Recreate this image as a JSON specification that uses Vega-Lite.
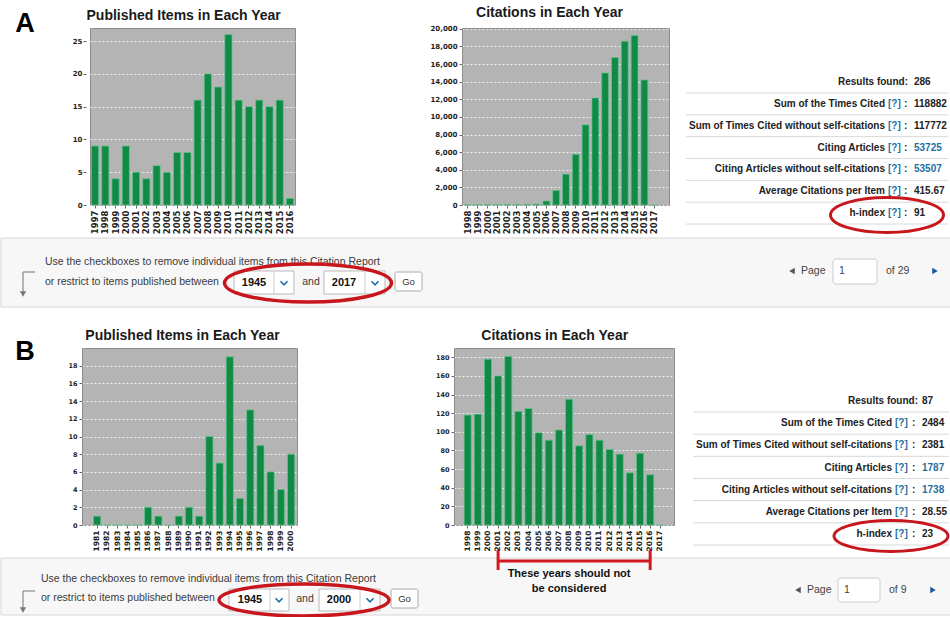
{
  "$schema": "https://vega.github.io/schema/vega-lite/v6.json",
  "background": "white",
  "padding": 0,
  "spacing": 0,
  "config": {
    "view": {"stroke": null},
    "font": "Liberation Sans",
    "title": {"font": "Liberation Sans", "fontSize": 14, "fontWeight": "bold", "color": "#1a1a1a", "anchor": "middle", "frame": "bounds", "offset": 5},
    "axis": {"labelFont": "DejaVu Sans", "labelColor": "#1e1e1e", "labelFontWeight": "bold", "domain": false, "tickColor": "#666666", "tickSize": 3, "title": null, "gridColor": "#ffffff", "gridDash": [2, 2], "gridOpacity": 0.75, "labelOverlap": false},
    "axisX": {"labelAngle": -90, "labelPadding": 2, "grid": false},
    "axisY": {"grid": true, "labelPadding": 2}
  },
  "datasets": {
    "pubA": [
      {"year": "1997", "n": 9}, {"year": "1998", "n": 9}, {"year": "1999", "n": 4}, {"year": "2000", "n": 9},
      {"year": "2001", "n": 5}, {"year": "2002", "n": 4}, {"year": "2003", "n": 6}, {"year": "2004", "n": 5},
      {"year": "2005", "n": 8}, {"year": "2006", "n": 8}, {"year": "2007", "n": 16}, {"year": "2008", "n": 20},
      {"year": "2009", "n": 18}, {"year": "2010", "n": 26}, {"year": "2011", "n": 16}, {"year": "2012", "n": 15},
      {"year": "2013", "n": 16}, {"year": "2014", "n": 15}, {"year": "2015", "n": 16}, {"year": "2016", "n": 1}
    ],
    "citA": [
      {"year": "1998", "n": 40}, {"year": "1999", "n": 50}, {"year": "2000", "n": 60}, {"year": "2001", "n": 60},
      {"year": "2002", "n": 70}, {"year": "2003", "n": 70}, {"year": "2004", "n": 80}, {"year": "2005", "n": 110},
      {"year": "2006", "n": 450}, {"year": "2007", "n": 1650}, {"year": "2008", "n": 3500}, {"year": "2009", "n": 5750},
      {"year": "2010", "n": 9100}, {"year": "2011", "n": 12150}, {"year": "2012", "n": 15000}, {"year": "2013", "n": 16750},
      {"year": "2014", "n": 18600}, {"year": "2015", "n": 19250}, {"year": "2016", "n": 14200}, {"year": "2017", "n": 0}
    ],
    "pubB": [
      {"year": "1981", "n": 1}, {"year": "1982", "n": 0}, {"year": "1983", "n": 0}, {"year": "1984", "n": 0},
      {"year": "1985", "n": 0}, {"year": "1986", "n": 2}, {"year": "1987", "n": 1}, {"year": "1988", "n": 0},
      {"year": "1989", "n": 1}, {"year": "1990", "n": 2}, {"year": "1991", "n": 1}, {"year": "1992", "n": 10},
      {"year": "1993", "n": 7}, {"year": "1994", "n": 19}, {"year": "1995", "n": 3}, {"year": "1996", "n": 13},
      {"year": "1997", "n": 9}, {"year": "1998", "n": 6}, {"year": "1999", "n": 4}, {"year": "2000", "n": 8}
    ],
    "citB": [
      {"year": "1998", "n": 118}, {"year": "1999", "n": 119}, {"year": "2000", "n": 178}, {"year": "2001", "n": 160},
      {"year": "2002", "n": 181}, {"year": "2003", "n": 122}, {"year": "2004", "n": 125}, {"year": "2005", "n": 99},
      {"year": "2006", "n": 91}, {"year": "2007", "n": 102}, {"year": "2008", "n": 135}, {"year": "2009", "n": 85},
      {"year": "2010", "n": 97}, {"year": "2011", "n": 91}, {"year": "2012", "n": 81}, {"year": "2013", "n": 76},
      {"year": "2014", "n": 56}, {"year": "2015", "n": 77}, {"year": "2016", "n": 54}, {"year": "2017", "n": 0}
    ],
    "noteB": [
      {"from": "2001", "to": "2016", "mid": "2008", "line1": "These years should not", "line2": "be considered"}
    ],
    "statsA": [
      {"label": "Results found:", "q": false, "value": "286", "link": false},
      {"label": "Sum of the Times Cited", "q": true, "value": "118882", "link": false},
      {"label": "Sum of Times Cited without self-citations", "q": true, "value": "117772", "link": false},
      {"label": "Citing Articles", "q": true, "value": "53725", "link": true},
      {"label": "Citing Articles without self-citations", "q": true, "value": "53507", "link": true},
      {"label": "Average Citations per Item", "q": true, "value": "415.67", "link": false},
      {"label": "h-index", "q": true, "value": "91", "link": false}
    ],
    "statsB": [
      {"label": "Results found:", "q": false, "value": "87", "link": false},
      {"label": "Sum of the Times Cited", "q": true, "value": "2484", "link": false},
      {"label": "Sum of Times Cited without self-citations", "q": true, "value": "2381", "link": false},
      {"label": "Citing Articles", "q": true, "value": "1787", "link": true},
      {"label": "Citing Articles without self-citations", "q": true, "value": "1738", "link": true},
      {"label": "Average Citations per Item", "q": true, "value": "28.55", "link": false},
      {"label": "h-index", "q": true, "value": "23", "link": false}
    ],
    "ctlA": [
      {"panel": "A", "line1": "Use the checkboxes to remove individual items from this Citation Report", "line2": "or restrict to items published between", "from": "1945", "and": "and", "to": "2017", "go": "Go", "page": "Page", "current": "1", "of": "of 29"}
    ],
    "ctlB": [
      {"panel": "B", "line1": "Use the checkboxes to remove individual items from this Citation Report", "line2": "or restrict to items published between", "from": "1945", "and": "and", "to": "2000", "go": "Go", "page": "Page", "current": "1", "of": "of 9"}
    ],
    "blank": [{}]
  },
  "vconcat": [
    {
      "bounds": "flush",
      "spacing": 0,
      "hconcat": [
        {
          "width": 89, "height": 210,
          "data": {"name": "ctlA"},
          "layer": [
            {"mark": {"type": "rule", "opacity": 0, "strokeWidth": 0.01}, "encoding": {"x": {"value": 0}, "y": {"value": -28}, "y2": {"value": 279}}},
            {"mark": {"type": "text", "font": "Liberation Sans", "fontSize": 27, "fontWeight": "bold", "align": "center", "baseline": "alphabetic", "color": "#000000"}, "encoding": {"text": {"field": "panel"}, "x": {"value": 24}, "y": {"value": 4}}},
            {"mark": {"type": "rect", "fill": "#f7f7f7", "stroke": "#d6d6d6"}, "encoding": {"x": {"value": 0}, "x2": {"value": 950}, "y": {"value": 210}, "y2": {"value": 279}}},
            {"mark": {"type": "text", "align": "left", "baseline": "middle", "fontSize": 10.5, "color": "#3a3a3a"}, "encoding": {"x": {"value": 44}, "y": {"value": 234}, "text": {"field": "line1"}}},
            {"mark": {"type": "text", "align": "left", "baseline": "middle", "fontSize": 10.5, "color": "#3a3a3a"}, "encoding": {"x": {"value": 44}, "y": {"value": 254}, "text": {"field": "line2"}}},
            {"mark": {"type": "rule", "color": "#888888", "strokeWidth": 1.2}, "encoding": {"x": {"value": 22}, "x2": {"value": 34}, "y": {"value": 244}}},
            {"mark": {"type": "rule", "color": "#888888", "strokeWidth": 1.2}, "encoding": {"x": {"value": 22}, "y": {"value": 244}, "y2": {"value": 264}}},
            {"mark": {"type": "point", "shape": "triangle-down", "size": 40, "filled": true, "color": "#777777", "opacity": 1}, "encoding": {"x": {"value": 22}, "y": {"value": 266}}},
            {"mark": {"type": "rect", "fill": "#ffffff", "stroke": "#b9b9b9"}, "encoding": {"x": {"value": 233}, "x2": {"value": 293}, "y": {"value": 243}, "y2": {"value": 266}}},
            {"mark": {"type": "rule", "color": "#cccccc"}, "encoding": {"x": {"value": 273}, "y": {"value": 243}, "y2": {"value": 266}}},
            {"mark": {"type": "text", "align": "center", "baseline": "middle", "fontSize": 11, "fontWeight": "bold", "color": "#111111"}, "encoding": {"x": {"value": 253}, "y": {"value": 255}, "text": {"field": "from"}}},
            {"mark": {"type": "point", "shape": "M -1 -0.5 L 0 0.5 L 1 -0.5", "size": 50, "filled": false, "stroke": "#1b6fa8", "strokeWidth": 1.6, "opacity": 1}, "encoding": {"x": {"value": 283}, "y": {"value": 255}}},
            {"mark": {"type": "text", "align": "center", "baseline": "middle", "fontSize": 10.5, "color": "#3a3a3a"}, "encoding": {"x": {"value": 310}, "y": {"value": 254}, "text": {"field": "and"}}},
            {"mark": {"type": "rect", "fill": "#ffffff", "stroke": "#b9b9b9"}, "encoding": {"x": {"value": 323}, "x2": {"value": 384}, "y": {"value": 243}, "y2": {"value": 266}}},
            {"mark": {"type": "rule", "color": "#cccccc"}, "encoding": {"x": {"value": 364}, "y": {"value": 243}, "y2": {"value": 266}}},
            {"mark": {"type": "text", "align": "center", "baseline": "middle", "fontSize": 11, "fontWeight": "bold", "color": "#111111"}, "encoding": {"x": {"value": 343}, "y": {"value": 255}, "text": {"field": "to"}}},
            {"mark": {"type": "point", "shape": "M -1 -0.5 L 0 0.5 L 1 -0.5", "size": 50, "filled": false, "stroke": "#1b6fa8", "strokeWidth": 1.6, "opacity": 1}, "encoding": {"x": {"value": 374}, "y": {"value": 255}}},
            {"mark": {"type": "rect", "fill": "#ffffff", "stroke": "#aaaaaa", "cornerRadius": 2}, "encoding": {"x": {"value": 394}, "x2": {"value": 421}, "y": {"value": 244}, "y2": {"value": 263}}},
            {"mark": {"type": "text", "align": "center", "baseline": "middle", "fontSize": 9.5, "color": "#333333"}, "encoding": {"x": {"value": 407.5}, "y": {"value": 253.5}, "text": {"field": "go"}}},
            {"mark": {"type": "point", "shape": "M -1 0 C -1 -0.126 -0.552 -0.228 0 -0.228 C 0.552 -0.228 1 -0.126 1 0 C 1 0.126 0.552 0.228 0 0.228 C -0.552 0.228 -1 0.126 -1 0 Z", "size": 27889, "filled": false, "stroke": "#c8161d", "strokeWidth": 3.5, "opacity": 1}, "encoding": {"x": {"value": 307}, "y": {"value": 255}}},
            {"mark": {"type": "point", "shape": "triangle-left", "size": 40, "filled": true, "color": "#555555", "opacity": 1}, "encoding": {"x": {"value": 791}, "y": {"value": 243}}},
            {"mark": {"type": "text", "align": "left", "baseline": "middle", "fontSize": 10.5, "color": "#444444"}, "encoding": {"x": {"value": 800}, "y": {"value": 243}, "text": {"field": "page"}}},
            {"mark": {"type": "rect", "fill": "#ffffff", "stroke": "#cccccc", "cornerRadius": 3}, "encoding": {"x": {"value": 832}, "x2": {"value": 876}, "y": {"value": 231}, "y2": {"value": 256}}},
            {"mark": {"type": "text", "align": "left", "baseline": "middle", "fontSize": 10.5, "color": "#444444"}, "encoding": {"x": {"value": 838}, "y": {"value": 243}, "text": {"field": "current"}}},
            {"mark": {"type": "text", "align": "left", "baseline": "middle", "fontSize": 10.5, "color": "#444444"}, "encoding": {"x": {"value": 885}, "y": {"value": 243}, "text": {"field": "of"}}},
            {"mark": {"type": "point", "shape": "triangle-right", "size": 40, "filled": true, "color": "#1a5a9a", "opacity": 1}, "encoding": {"x": {"value": 934}, "y": {"value": 243}}}
          ]
        },
        {
          "width": 205, "height": 177,
          "data": {"name": "pubA"},
          "title": "Published Items in Each Year",
          "view": {"fill": "#b4b4b4", "stroke": "#8c8c8c"},
          "mark": {"type": "bar", "fill": "#118a46", "stroke": "#62c48e", "strokeWidth": 0.7},
          "encoding": {
            "x": {"field": "year", "type": "ordinal", "scale": {"paddingInner": 0.3, "paddingOuter": 0.14}, "axis": {"labelFontSize": 8.5}},
            "y": {"field": "n", "type": "quantitative", "scale": {"domain": [0, 27], "nice": false}, "axis": {"values": [0, 5, 10, 15, 20, 25], "labelFontSize": 7, "offset": 4, "labelPadding": 1}}
          }
        },
        {"width": 167, "height": 1, "data": {"name": "blank"}, "mark": "text", "encoding": {"text": {"value": ""}}},
        {
          "width": 207, "height": 177,
          "data": {"name": "citA"},
          "title": "Citations in Each Year",
          "view": {"fill": "#b4b4b4", "stroke": "#8c8c8c"},
          "mark": {"type": "bar", "fill": "#118a46", "stroke": "#62c48e", "strokeWidth": 0.7},
          "encoding": {
            "x": {"field": "year", "type": "ordinal", "scale": {"paddingInner": 0.3, "paddingOuter": 0.71, "align": 0.18}, "axis": {"labelFontSize": 8.5}},
            "y": {"field": "n", "type": "quantitative", "scale": {"domain": [0, 20100], "nice": false}, "axis": {"values": [0, 2000, 4000, 6000, 8000, 10000, 12000, 14000, 16000, 18000, 20000], "labelExpr": "format(datum.value, ',')", "labelFontSize": 7}}
          }
        },
        {
          "width": 282, "height": 210,
          "data": {"name": "statsA"},
          "encoding": {
            "y": {"field": "label", "type": "nominal", "axis": null, "scale": {"type": "point", "padding": 0, "range": [54, 185], "domain": ["Results found:", "Sum of the Times Cited", "Sum of Times Cited without self-citations", "Citing Articles", "Citing Articles without self-citations", "Average Citations per Item", "h-index"]}}
          },
          "layer": [
            {"mark": {"type": "rule", "color": "#d8d8d8", "yOffset": 11}, "encoding": {"x": {"value": 17}, "x2": {"value": 279}}},
            {"transform": [{"filter": "!datum.q"}], "mark": {"type": "text", "align": "right", "baseline": "middle", "fontSize": 10, "fontWeight": "bold", "color": "#222222"}, "encoding": {"x": {"value": 239}, "text": {"field": "label"}}},
            {"transform": [{"filter": "datum.q"}], "mark": {"type": "text", "align": "right", "baseline": "middle", "fontSize": 10, "fontWeight": "bold", "color": "#222222"}, "encoding": {"x": {"value": 216}, "text": {"field": "label"}}},
            {"transform": [{"filter": "datum.q"}], "mark": {"type": "text", "align": "left", "baseline": "middle", "fontSize": 10, "fontWeight": "bold", "color": "#1f6f9f"}, "encoding": {"x": {"value": 219}, "text": {"value": "[?]"}}},
            {"transform": [{"filter": "datum.q"}], "mark": {"type": "text", "align": "left", "baseline": "middle", "fontSize": 10, "fontWeight": "bold", "color": "#222222"}, "encoding": {"x": {"value": 235}, "text": {"value": ":"}}},
            {"mark": {"type": "text", "align": "left", "baseline": "middle", "fontSize": 10, "fontWeight": "bold"}, "encoding": {"x": {"value": 245}, "text": {"field": "value"}, "color": {"condition": {"test": "datum.link", "value": "#1f6f9f"}, "value": "#222222"}}},
            {"transform": [{"filter": "datum.label == 'h-index'"}], "mark": {"type": "point", "shape": "M -1 0 C -1 -0.171 -0.552 -0.31 0 -0.31 C 0.552 -0.31 1 -0.171 1 0 C 1 0.171 0.552 0.31 0 0.31 C -0.552 0.31 -1 0.171 -1 0 Z", "size": 12769, "filled": false, "stroke": "#c8161d", "strokeWidth": 3, "opacity": 1, "yOffset": 2}, "encoding": {"x": {"value": 218}}}
          ]
        }
      ]
    },
    {
      "bounds": "flush",
      "spacing": 0,
      "hconcat": [
        {
          "width": 81, "height": 210,
          "data": {"name": "ctlB"},
          "layer": [
            {"mark": {"type": "rule", "opacity": 0, "strokeWidth": 0.01}, "encoding": {"x": {"value": 0}, "y": {"value": -38}, "y2": {"value": 267}}},
            {"mark": {"type": "text", "font": "Liberation Sans", "fontSize": 27, "fontWeight": "bold", "align": "center", "baseline": "alphabetic", "color": "#000000"}, "encoding": {"text": {"field": "panel"}, "x": {"value": 24}, "y": {"value": 12}}},
            {"mark": {"type": "rect", "fill": "#f7f7f7", "stroke": "#d6d6d6"}, "encoding": {"x": {"value": 0}, "x2": {"value": 950}, "y": {"value": 210}, "y2": {"value": 267}}},
            {"mark": {"type": "text", "align": "left", "baseline": "middle", "fontSize": 10.5, "color": "#3a3a3a"}, "encoding": {"x": {"value": 40}, "y": {"value": 231}, "text": {"field": "line1"}}},
            {"mark": {"type": "text", "align": "left", "baseline": "middle", "fontSize": 10.5, "color": "#3a3a3a"}, "encoding": {"x": {"value": 40}, "y": {"value": 250}, "text": {"field": "line2"}}},
            {"mark": {"type": "rule", "color": "#888888", "strokeWidth": 1.2}, "encoding": {"x": {"value": 22}, "x2": {"value": 34}, "y": {"value": 243}}},
            {"mark": {"type": "rule", "color": "#888888", "strokeWidth": 1.2}, "encoding": {"x": {"value": 22}, "y": {"value": 243}, "y2": {"value": 260}}},
            {"mark": {"type": "point", "shape": "triangle-down", "size": 40, "filled": true, "color": "#777777", "opacity": 1}, "encoding": {"x": {"value": 22}, "y": {"value": 262}}},
            {"mark": {"type": "rect", "fill": "#ffffff", "stroke": "#b9b9b9"}, "encoding": {"x": {"value": 228}, "x2": {"value": 288}, "y": {"value": 241}, "y2": {"value": 263}}},
            {"mark": {"type": "rule", "color": "#cccccc"}, "encoding": {"x": {"value": 269}, "y": {"value": 241}, "y2": {"value": 263}}},
            {"mark": {"type": "text", "align": "center", "baseline": "middle", "fontSize": 11, "fontWeight": "bold", "color": "#111111"}, "encoding": {"x": {"value": 249}, "y": {"value": 252}, "text": {"field": "from"}}},
            {"mark": {"type": "point", "shape": "M -1 -0.5 L 0 0.5 L 1 -0.5", "size": 50, "filled": false, "stroke": "#1b6fa8", "strokeWidth": 1.6, "opacity": 1}, "encoding": {"x": {"value": 278}, "y": {"value": 252}}},
            {"mark": {"type": "text", "align": "center", "baseline": "middle", "fontSize": 10.5, "color": "#3a3a3a"}, "encoding": {"x": {"value": 304}, "y": {"value": 251}, "text": {"field": "and"}}},
            {"mark": {"type": "rect", "fill": "#ffffff", "stroke": "#b9b9b9"}, "encoding": {"x": {"value": 318}, "x2": {"value": 379}, "y": {"value": 241}, "y2": {"value": 263}}},
            {"mark": {"type": "rule", "color": "#cccccc"}, "encoding": {"x": {"value": 359}, "y": {"value": 241}, "y2": {"value": 263}}},
            {"mark": {"type": "text", "align": "center", "baseline": "middle", "fontSize": 11, "fontWeight": "bold", "color": "#111111"}, "encoding": {"x": {"value": 338}, "y": {"value": 252}, "text": {"field": "to"}}},
            {"mark": {"type": "point", "shape": "M -1 -0.5 L 0 0.5 L 1 -0.5", "size": 50, "filled": false, "stroke": "#1b6fa8", "strokeWidth": 1.6, "opacity": 1}, "encoding": {"x": {"value": 369}, "y": {"value": 252}}},
            {"mark": {"type": "rect", "fill": "#ffffff", "stroke": "#aaaaaa", "cornerRadius": 2}, "encoding": {"x": {"value": 390}, "x2": {"value": 417}, "y": {"value": 241}, "y2": {"value": 260}}},
            {"mark": {"type": "text", "align": "center", "baseline": "middle", "fontSize": 9.5, "color": "#333333"}, "encoding": {"x": {"value": 403.5}, "y": {"value": 250.5}, "text": {"field": "go"}}},
            {"mark": {"type": "point", "shape": "M -1 0 C -1 -0.104 -0.552 -0.188 0 -0.188 C 0.552 -0.188 1 -0.104 1 0 C 1 0.104 0.552 0.188 0 0.188 C -0.552 0.188 -1 0.104 -1 0 Z", "size": 28900, "filled": false, "stroke": "#c8161d", "strokeWidth": 3.5, "opacity": 1}, "encoding": {"x": {"value": 303}, "y": {"value": 252}}},
            {"mark": {"type": "point", "shape": "triangle-left", "size": 40, "filled": true, "color": "#555555", "opacity": 1}, "encoding": {"x": {"value": 797}, "y": {"value": 242}}},
            {"mark": {"type": "text", "align": "left", "baseline": "middle", "fontSize": 10.5, "color": "#444444"}, "encoding": {"x": {"value": 806}, "y": {"value": 242}, "text": {"field": "page"}}},
            {"mark": {"type": "rect", "fill": "#ffffff", "stroke": "#cccccc", "cornerRadius": 3}, "encoding": {"x": {"value": 837}, "x2": {"value": 879}, "y": {"value": 230}, "y2": {"value": 254}}},
            {"mark": {"type": "text", "align": "left", "baseline": "middle", "fontSize": 10.5, "color": "#444444"}, "encoding": {"x": {"value": 843}, "y": {"value": 242}, "text": {"field": "current"}}},
            {"mark": {"type": "text", "align": "left", "baseline": "middle", "fontSize": 10.5, "color": "#444444"}, "encoding": {"x": {"value": 888}, "y": {"value": 242}, "text": {"field": "of"}}},
            {"mark": {"type": "point", "shape": "triangle-right", "size": 40, "filled": true, "color": "#1a5a9a", "opacity": 1}, "encoding": {"x": {"value": 932}, "y": {"value": 242}}}
          ]
        },
        {
          "width": 215, "height": 177,
          "data": {"name": "pubB"},
          "title": "Published Items in Each Year",
          "view": {"fill": "#b4b4b4", "stroke": "#8c8c8c"},
          "mark": {"type": "bar", "fill": "#118a46", "stroke": "#62c48e", "strokeWidth": 0.7},
          "encoding": {
            "x": {"field": "year", "type": "ordinal", "scale": {"paddingInner": 0.3, "paddingOuter": 0.68, "align": 0.83}, "axis": {"labelFontSize": 7.5}},
            "y": {"field": "n", "type": "quantitative", "scale": {"domain": [0, 20], "nice": false}, "axis": {"values": [0, 2, 4, 6, 8, 10, 12, 14, 16, 18], "labelFontSize": 6.5}}
          }
        },
        {"width": 157, "height": 1, "data": {"name": "blank"}, "mark": "text", "encoding": {"text": {"value": ""}}},
        {
          "width": 220, "height": 177,
          "title": "Citations in Each Year",
          "view": {"fill": "#b4b4b4", "stroke": "#8c8c8c"},
          "layer": [
            {
              "data": {"name": "citB"},
              "mark": {"type": "bar", "fill": "#118a46", "stroke": "#62c48e", "strokeWidth": 0.7},
              "encoding": {
                "x": {"field": "year", "type": "ordinal", "scale": {"domain": ["1998", "1999", "2000", "2001", "2002", "2003", "2004", "2005", "2006", "2007", "2008", "2009", "2010", "2011", "2012", "2013", "2014", "2015", "2016", "2017"], "paddingInner": 0.3, "paddingOuter": 1}, "axis": {"labelFontSize": 7.5}},
                "y": {"field": "n", "type": "quantitative", "scale": {"domain": [0, 190], "nice": false}, "axis": {"values": [0, 20, 40, 60, 80, 100, 120, 140, 160, 180], "labelFontSize": 6.5}}
              }
            },
            {
              "data": {"name": "noteB"},
              "mark": {"type": "rule", "color": "#d11a1f", "strokeWidth": 3},
              "encoding": {
                "x": {"field": "from", "type": "ordinal", "bandPosition": 0.5},
                "x2": {"field": "to", "bandPosition": 0.5},
                "y": {"datum": -38.6, "type": "quantitative", "axis": {"values": [0, 20, 40, 60, 80, 100, 120, 140, 160, 180], "labelFontSize": 6.5}}
              }
            },
            {
              "data": {"name": "noteB"},
              "mark": {"type": "rule", "color": "#d11a1f", "strokeWidth": 3},
              "encoding": {
                "x": {"field": "from", "type": "ordinal", "bandPosition": 0.5},
                "y": {"datum": -26.8, "type": "quantitative", "axis": {"values": [0, 20, 40, 60, 80, 100, 120, 140, 160, 180], "labelFontSize": 6.5}},
                "y2": {"datum": -48.3}
              }
            },
            {
              "data": {"name": "noteB"},
              "mark": {"type": "rule", "color": "#d11a1f", "strokeWidth": 3},
              "encoding": {
                "x": {"field": "to", "type": "ordinal", "bandPosition": 0.5},
                "y": {"datum": -26.8, "type": "quantitative", "axis": {"values": [0, 20, 40, 60, 80, 100, 120, 140, 160, 180], "labelFontSize": 6.5}},
                "y2": {"datum": -48.3}
              }
            },
            {
              "data": {"name": "noteB"},
              "mark": {"type": "text", "align": "center", "baseline": "middle", "fontSize": 11, "fontWeight": "bold", "color": "#111111"},
              "encoding": {
                "x": {"field": "mid", "type": "ordinal", "bandPosition": 0.5},
                "y": {"datum": -52.6, "type": "quantitative", "axis": {"values": [0, 20, 40, 60, 80, 100, 120, 140, 160, 180], "labelFontSize": 6.5}},
                "text": {"field": "line1"}
              }
            },
            {
              "data": {"name": "noteB"},
              "mark": {"type": "text", "align": "center", "baseline": "middle", "fontSize": 11, "fontWeight": "bold", "color": "#111111"},
              "encoding": {
                "x": {"field": "mid", "type": "ordinal", "bandPosition": 0.5},
                "y": {"datum": -68.7, "type": "quantitative", "axis": {"values": [0, 20, 40, 60, 80, 100, 120, 140, 160, 180], "labelFontSize": 6.5}},
                "text": {"field": "line2"}
              }
            }
          ]
        },
        {
          "width": 277, "height": 210,
          "data": {"name": "statsB"},
          "encoding": {
            "y": {"field": "label", "type": "nominal", "axis": null, "scale": {"type": "point", "padding": 0, "range": [53, 186], "domain": ["Results found:", "Sum of the Times Cited", "Sum of Times Cited without self-citations", "Citing Articles", "Citing Articles without self-citations", "Average Citations per Item", "h-index"]}}
          },
          "layer": [
            {"mark": {"type": "rule", "color": "#d8d8d8", "yOffset": 11}, "encoding": {"x": {"value": 19}, "x2": {"value": 275}}},
            {"transform": [{"filter": "!datum.q"}], "mark": {"type": "text", "align": "right", "baseline": "middle", "fontSize": 10, "fontWeight": "bold", "color": "#222222"}, "encoding": {"x": {"value": 244}, "text": {"field": "label"}}},
            {"transform": [{"filter": "datum.q"}], "mark": {"type": "text", "align": "right", "baseline": "middle", "fontSize": 10, "fontWeight": "bold", "color": "#222222"}, "encoding": {"x": {"value": 218}, "text": {"field": "label"}}},
            {"transform": [{"filter": "datum.q"}], "mark": {"type": "text", "align": "left", "baseline": "middle", "fontSize": 10, "fontWeight": "bold", "color": "#1f6f9f"}, "encoding": {"x": {"value": 221}, "text": {"value": "[?]"}}},
            {"transform": [{"filter": "datum.q"}], "mark": {"type": "text", "align": "left", "baseline": "middle", "fontSize": 10, "fontWeight": "bold", "color": "#222222"}, "encoding": {"x": {"value": 238}, "text": {"value": ":"}}},
            {"mark": {"type": "text", "align": "left", "baseline": "middle", "fontSize": 10, "fontWeight": "bold"}, "encoding": {"x": {"value": 248}, "text": {"field": "value"}, "color": {"condition": {"test": "datum.link", "value": "#1f6f9f"}, "value": "#222222"}}},
            {"transform": [{"filter": "datum.label == 'h-index'"}], "mark": {"type": "point", "shape": "M -1 0 C -1 -0.149 -0.552 -0.27 0 -0.27 C 0.552 -0.27 1 -0.149 1 0 C 1 0.149 0.552 0.27 0 0.27 C -0.552 0.27 -1 0.149 -1 0 Z", "size": 12996, "filled": false, "stroke": "#c8161d", "strokeWidth": 3, "opacity": 1, "yOffset": 2}, "encoding": {"x": {"value": 217}}}
          ]
        }
      ]
    }
  ]
}
